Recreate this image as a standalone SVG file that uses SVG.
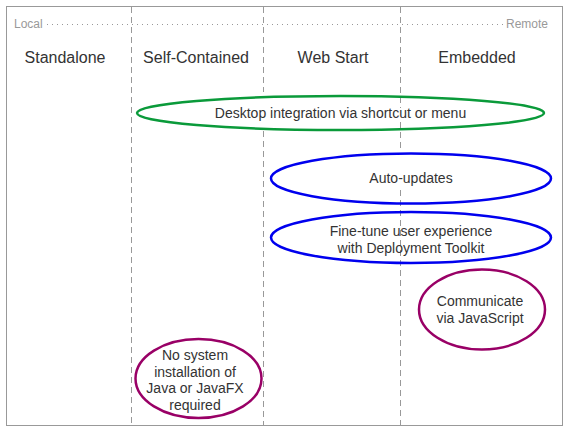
<svg xmlns="http://www.w3.org/2000/svg" width="570" height="434" viewBox="0 0 570 434">
<style>
text{font-family:"Liberation Sans",Arial,sans-serif;fill:#333;text-anchor:middle}
.hdr{font-size:16px}
.lbl{font-size:14px}
.axis{font-size:12px;fill:#999}
.col{stroke:#999;stroke-width:1;stroke-dasharray:6 4;fill:none}
.dot{stroke:#999;stroke-width:1;stroke-dasharray:1 4;fill:none}
.e{fill:none;stroke-width:2.5}
.g{stroke:#0a9a3a}
.b{stroke:#0000ee}
.p{stroke:#990066}
</style>
<rect x="0" y="0" width="570" height="434" fill="#fff"/>
<rect x="6.5" y="6.5" width="556" height="419" fill="none" stroke="#999" stroke-width="1"/>
<g id="axis">
<line class="dot" x1="47" y1="24.5" x2="504" y2="24.5"/>
<text class="axis" x="14" y="28" style="text-anchor:start">Local</text>
<text class="axis" x="548" y="28" style="text-anchor:end">Remote</text>
</g>
<g id="columns">
<path class="col" d="M131.5 7V425"/>
<path class="col" d="M263.5 7V92M263.5 131V425"/>
<path class="col" d="M400.5 7V108M400.5 122V152M400.5 190V425"/>
<text class="hdr" x="65" y="63">Standalone</text>
<text class="hdr" x="196" y="63">Self-Contained</text>
<text class="hdr" x="333" y="63">Web Start</text>
<text class="hdr" x="477" y="63">Embedded</text>
</g>
<g id="connectors"></g>
<g id="desktop">
<ellipse class="e g" cx="340.5" cy="113" rx="203.5" ry="17"/>
<text class="lbl" x="340.5" y="118">Desktop integration via shortcut or menu</text>
</g>
<g id="autoupdates">
<ellipse class="e b" cx="411" cy="178.5" rx="140" ry="25"/>
<text class="lbl" x="411" y="183">Auto-updates</text>
</g>
<g id="finetune">
<ellipse class="e b" cx="411" cy="237.5" rx="140" ry="25.5"/>
<text class="lbl" x="411" y="236">Fine-tune user experience</text>
<text class="lbl" x="411" y="253">with Deployment Toolkit</text>
</g>
<g id="communicate">
<ellipse class="e p" cx="482" cy="309.5" rx="63" ry="40"/>
<text class="lbl" x="480" y="306">Communicate</text>
<text class="lbl" x="480" y="323">via JavaScript</text>
</g>
<g id="nosystem">
<ellipse class="e p" cx="198.5" cy="378.5" rx="63" ry="39.5"/>
<text class="lbl" x="195" y="360">No system</text>
<text class="lbl" x="195" y="377">installation of</text>
<text class="lbl" x="195" y="393">Java or JavaFX</text>
<text class="lbl" x="195" y="410">required</text>
</g>
</svg>
